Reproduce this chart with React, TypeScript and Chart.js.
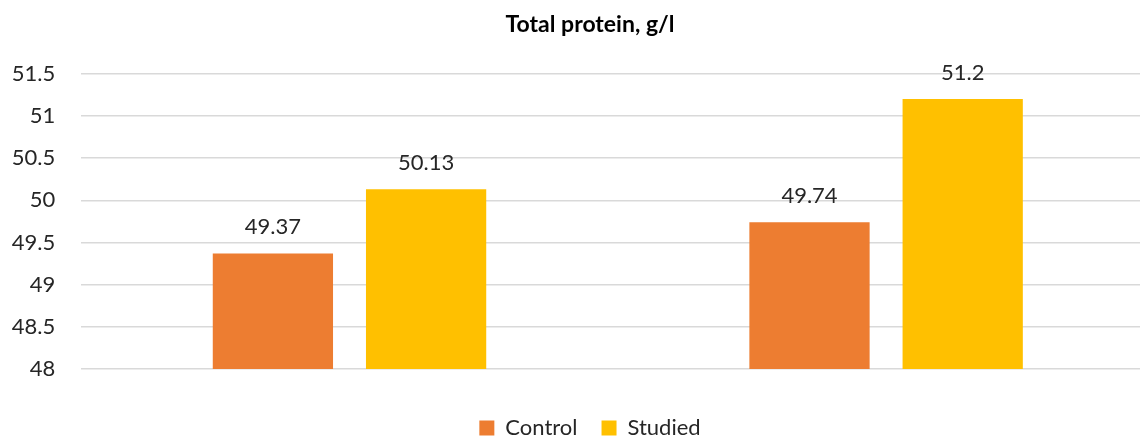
import React, { useEffect, useRef } from 'react';
import { Chart, registerables } from 'chart.js';

Chart.register(...registerables);

// Chart content
const categories = ['', ''];
const seriesNames = ['Control', 'Studied'];
const controlValues = [49.37, 49.74];
const studiedValues = [50.13, 51.2];
const yMin = 48;
const yMax = 51.5;
const yStep = 0.5;
const titleText = 'Total protein, g/l';

const seriesColors = ['#ED7D31', '#FFC000'];
const textColor = '#262626';
const fontFamily = 'Lato, "Open Sans", sans-serif';

// Writes each bar's value above it
const valueLabels = {
  id: 'valueLabels',
  afterDatasetsDraw(chart: any) {
    const ctx = chart.ctx;
    ctx.save();
    ctx.font = `22px ${fontFamily}`;
    ctx.fillStyle = textColor;
    ctx.textAlign = 'center';
    ctx.textBaseline = 'alphabetic';
    chart.data.datasets.forEach((ds: any, i: number) => {
      const meta = chart.getDatasetMeta(i);
      meta.data.forEach((bar: any, j: number) => {
        ctx.fillText(String(ds.data[j]), bar.x, bar.y - 19.5);
      });
    });
    ctx.restore();
  },
};

export default function App() {
  const canvasRef = useRef<HTMLCanvasElement | null>(null);

  useEffect(() => {
    document.documentElement.style.overflow = 'hidden';
    document.body.style.overflow = 'hidden';
    const canvas = canvasRef.current;
    if (!canvas) return;
    const chart = new Chart(canvas, {
      type: 'bar',
      data: {
        labels: categories,
        datasets: [
          {
            label: seriesNames[0],
            data: controlValues,
            backgroundColor: seriesColors[0],
            categoryPercentage: 0.571,
            barPercentage: 0.785,
          },
          {
            label: seriesNames[1],
            data: studiedValues,
            backgroundColor: seriesColors[1],
            categoryPercentage: 0.571,
            barPercentage: 0.785,
          },
        ],
      },
      options: {
        responsive: false,
        animation: false,
        devicePixelRatio: 1,
        layout: { padding: 0 },
        plugins: {
          title: {
            display: true,
            text: titleText,
            color: '#000000',
            font: { family: fontFamily, size: 23, weight: 'bold' },
            padding: { top: 11.2, bottom: 34.9 },
          },
          legend: {
            display: true,
            position: 'bottom',
            labels: {
              color: textColor,
              font: { family: fontFamily, size: 22 },
              boxWidth: 15,
              boxHeight: 15,
              padding: 24,
            },
          },
          tooltip: { enabled: false },
        },
        scales: {
          x: {
            ticks: { display: false },
            grid: { display: false },
            border: { display: false },
            afterFit(s: any) {
              const legendH = s.chart.legend ? s.chart.legend.height : 0;
              s.height = Math.max(0, s.chart.height - 369 - legendH);
            },
          },
          y: {
            min: yMin,
            max: yMax,
            ticks: {
              stepSize: yStep,
              color: textColor,
              font: { family: fontFamily, size: 22 },
              padding: 26,
              callback: (v: any) => String(v),
            },
            grid: { color: '#d9d9d9', lineWidth: 1.5, drawTicks: false },
            border: { display: false },
            afterFit(s: any) {
              s.width = 81.2;
            },
          },
          rightSpace: {
            type: 'linear',
            position: 'right',
            display: true,
            ticks: { display: false },
            grid: { display: false },
            border: { display: false },
            afterFit(s: any) {
              s.width = 25.6;
            },
          },
        },
      },
      plugins: [valueLabels],
    } as any);
    return () => chart.destroy();
  }, []);

  return (
    <div
      style={{
        position: 'absolute',
        left: 0,
        top: 0,
        width: 1140,
        height: 436,
        overflow: 'hidden',
        background: '#ffffff',
      }}
    >
      <canvas
        ref={canvasRef}
        width={1180}
        height={449}
        style={{ display: 'block', width: 1180, height: 449 }}
      />
    </div>
  );
}
